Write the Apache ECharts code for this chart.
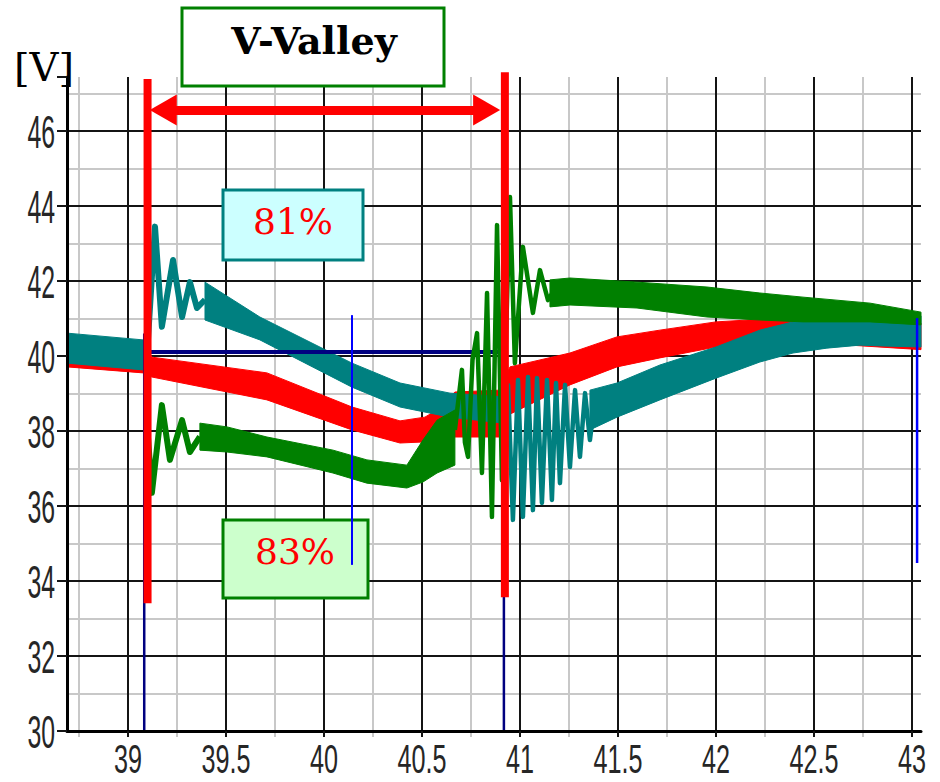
<!DOCTYPE html>
<html><head><meta charset="utf-8">
<script src="https://cdn.jsdelivr.net/npm/echarts@6/dist/echarts.min.js"></script>
<style>html,body{margin:0;padding:0;background:#fff}#c{width:940px;height:782px}</style>
</head><body><div id="c"></div>
<script>
// ---- axis ticks ----
const xMajorTicks = [39, 39.5, 40, 40.5, 41, 41.5, 42, 42.5, 43];
const xMinorTicks = [38.75, 39.25, 39.75, 40.25, 40.75, 41.25, 41.75, 42.25, 42.75];
const yMajorTicks = [30, 32, 34, 36, 38, 40, 42, 44, 46];
const yMinorTicks = [31, 33, 35, 37, 39, 41, 43, 45, 47];

// ---- ripple bands: [time, lower V, upper V] ----
const tealBandLeft = [[38.689, 39.81, 40.61], [39.077, 39.63, 40.43], [39.10, 39.62, 40.42]];
const tealBandMid = [[39.393, 40.96, 41.97], [39.673, 40.43, 41.04], [40.143, 39.17, 39.81], [40.388, 38.64, 39.28], [40.643, 38.37, 39.01], [40.92, 38.21, 38.91]];
const tealBandRight = [[41.357, 38.03, 39.09], [41.495, 38.37, 39.28], [41.714, 38.83, 39.76], [42.0, 39.41, 40.24], [42.224, 39.84, 40.69], [42.393, 40.08, 40.91], [42.566, 40.21, 41.01], [42.735, 40.29, 41.09], [42.837, 40.27, 41.07], [43.046, 40.24, 41.07]];
const redBand = [[38.689, 39.71, 40.56], [39.077, 39.55, 40.37], [39.122, 39.44, 39.97], [39.709, 38.83, 39.55], [40.143, 38.03, 38.64], [40.388, 37.68, 38.27], [40.515, 37.71, 38.37], [40.577, 37.81, 38.56], [40.668, 37.84, 39.04], [40.898, 37.84, 39.09], [40.949, 38.45, 39.71], [41.255, 39.23, 40.08], [41.495, 39.71, 40.51], [41.714, 39.95, 40.69], [42.0, 40.24, 40.91], [42.327, 40.37, 41.01], [42.684, 40.29, 40.96], [43.046, 40.17, 40.88]];
const greenBandMid = [[39.367, 37.49, 38.21], [39.505, 37.44, 38.11], [39.709, 37.31, 37.84], [40.046, 36.88, 37.49], [40.219, 36.61, 37.23], [40.423, 36.48, 37.09], [40.505, 36.64, 37.76], [40.577, 36.88, 38.29], [40.668, 37.09, 38.56]];
const greenBandRight = [[41.153, 41.31, 42.03], [41.255, 41.36, 42.08], [41.597, 41.28, 41.97], [41.954, 41.04, 41.84], [42.224, 40.96, 41.68], [42.444, 40.91, 41.57], [42.786, 40.91, 41.41], [43.046, 40.83, 41.17]];

// ---- ringing traces: [time, V] ----
const tealRingLeft = [[39.097, 40.0], [39.138, 43.45], [39.173, 40.78], [39.230, 42.56], [39.276, 41.04], [39.316, 41.97], [39.352, 41.28], [39.393, 41.5]];
const tealRingRight = [[40.923, 38.56], [40.939, 39.23], [40.964, 35.63], [40.990, 39.36], [41.015, 35.71], [41.041, 39.44], [41.066, 35.89], [41.087, 39.41], [41.112, 36.08], [41.138, 39.36], [41.163, 36.16], [41.184, 39.28], [41.204, 36.61], [41.230, 39.23], [41.255, 37.04], [41.281, 39.09], [41.306, 37.31], [41.332, 39.01], [41.357, 37.76], [41.383, 38.88]];
const greenRingLeft = [[39.10, 38.0], [39.122, 36.35], [39.173, 38.69], [39.214, 37.23], [39.276, 38.29], [39.316, 37.44], [39.367, 37.85]];
const greenRingMid = [[40.668, 38.03], [40.704, 39.63], [40.719, 37.7], [40.735, 37.31], [40.758, 39.9], [40.781, 40.61], [40.806, 36.88], [40.832, 41.68], [40.857, 35.71], [40.883, 43.49], [40.908, 36.69], [40.949, 44.24], [40.974, 39.81], [41.015, 42.91], [41.066, 41.15], [41.102, 42.29], [41.143, 41.49], [41.168, 41.7]];

// ---- annotations (data coordinates) ----
const cursorLines = [[39.1, 33.41, 47.39], [40.923, 33.57, 47.57]];   // [time, from V, to V]
const baseLines = [[39.083, 30, 40.6], [40.918, 30, 40.1]];
const levelLine = [[39.1, 40.107], [40.90, 40.107]];
const blueMarkers = [[40.143, 34.43, 41.09], [43.026, 34.48, 41.01]];
const arrowSpan = [[39.18, 46.56], [40.83, 46.56]];

const xMin = 38.689, xMax = 43.046, yMin = 30, yMax = 47.44;

const chart = echarts.init(document.getElementById('c'), null, {renderer: 'svg'});
const sans = "'Liberation Sans', Arial, sans-serif";
const serif = "'DejaVu Serif', 'Liberation Serif', serif";

function vline(d, color, width, z) {
  return {type: 'line', data: [[d[0], d[1]], [d[0], d[2]]], symbol: 'none', showSymbol: false, silent: true,
    animation: false, clip: false, z: z, lineStyle: {color: color, width: width, cap: 'butt'}};
}
function trace(data, color, width, z) {
  return {type: 'line', data: data, symbol: 'none', showSymbol: false, silent: true, animation: false,
    z: z, lineStyle: {color: color, width: width, join: 'round'}};
}
function band(rows, color, z) {
  return {type: 'custom', z: z, silent: true, animation: false, data: [[rows[0][0], rows[0][1]]],
    renderItem: function (p, api) {
      const up = rows.map(r => api.coord([r[0], r[2]]));
      const lo = rows.slice().reverse().map(r => api.coord([r[0], r[1]]));
      return {type: 'polygon', shape: {points: up.concat(lo)}, style: {fill: color, stroke: color, lineWidth: 1}};
    }};
}
function gridLines(xs, ys, color, width, z) {
  return {type: 'line', data: [], silent: true, animation: false, z: z,
    markLine: {silent: true, animation: false, z: z, symbol: 'none', label: {show: false},
      lineStyle: {color: color, width: width, type: 'solid'},
      data: xs.map(v => ({xAxis: v})).concat(ys.map(v => ({yAxis: v})))}};
}

const series = [
  gridLines(xMinorTicks, yMinorTicks, '#c8c8c8', 2, 1),
  gridLines(xMajorTicks, yMajorTicks, '#141414', 2, 1),
  band(redBand, '#ff0000', 4),
  band(tealBandLeft, '#008080', 5),
  band(tealBandMid, '#008080', 5),
  band(tealBandRight, '#008080', 5),
  band(greenBandMid, '#008000', 6),
  band(greenBandRight, '#008000', 6),
  trace(levelLine, '#000080', 4, 7),
  trace(greenRingLeft, '#008000', 6, 8),
  trace(greenRingMid, '#008000', 4.5, 8),
  trace(tealRingLeft, '#008080', 6, 9),
  trace(tealRingRight, '#008080', 4.5, 9),
  vline(baseLines[0], '#000080', 2.5, 10),
  vline(baseLines[1], '#000080', 2.5, 10),
  vline(cursorLines[0], '#ff0000', 8, 11),
  vline(cursorLines[1], '#ff0000', 8, 11),
  vline(blueMarkers[0], '#0000ff', 2, 12),
  vline(blueMarkers[1], '#0000ff', 2.5, 12),
  {type: 'line', data: [], silent: true, animation: false, z: 12,
    markLine: {silent: true, animation: false, z: 12, symbol: ['triangle', 'triangle'], symbolSize: [31, 27],
      label: {show: false}, lineStyle: {color: '#ff0000', width: 9, type: 'solid', opacity: 1},
      itemStyle: {color: '#ff0000'},
      data: [[{coord: arrowSpan[0]}, {coord: arrowSpan[1]}]]}}
];

chart.setOption({
  animation: false,
  backgroundColor: '#ffffff',
  grid: {left: 67, right: 19, top: 77, bottom: 51, containLabel: false, outerBoundsMode: 'none'},
  xAxis: [{
    type: 'value', min: xMin, max: xMax, position: 'bottom', z: 20,
    axisLine: {show: true, lineStyle: {color: '#000', width: 3}},
    axisTick: {show: true, length: 6, customValues: xMajorTicks, lineStyle: {color: '#141414', width: 2}},
    axisLabel: {show: false},
    splitLine: {show: false}
  }, {
    type: 'value', min: xMin, max: xMax, position: 'bottom', z: 19,
    axisLine: {show: false},
    axisTick: {show: true, length: 6, customValues: xMinorTicks, lineStyle: {color: '#c8c8c8', width: 2}},
    axisLabel: {show: false}, splitLine: {show: false}
  }],
  yAxis: {
    type: 'value', min: yMin, max: yMax, interval: 2, z: 20,
    axisLine: {show: true, lineStyle: {color: '#000', width: 3}},
    axisTick: {show: true, length: 10, lineStyle: {color: '#141414', width: 2}},
    axisLabel: {show: false},
    splitLine: {show: false}
  },
  series: series
});

// tick labels: condensed text placed through the axes' own scales
const axisBottom = chart.convertToPixel({yAxisIndex: 0}, yMin);
const axisLeft = chart.convertToPixel({xAxisIndex: 0}, xMin);
const labelGraphics = [];
xMajorTicks.forEach(v => labelGraphics.push({type: 'text', z: 30,
  x: chart.convertToPixel({xAxisIndex: 0}, v), y: axisBottom + 28, scaleX: 0.63,
  style: {text: String(v), align: 'center', verticalAlign: 'middle', fontFamily: sans, fontSize: 40, fill: '#262626'}}));
yMajorTicks.forEach(v => labelGraphics.push({type: 'text', z: 30,
  x: axisLeft - 12, y: chart.convertToPixel({yAxisIndex: 0}, v) + 1, scaleX: 0.54,
  style: {text: String(v), align: 'right', verticalAlign: 'middle', fontFamily: sans, fontSize: 46, fill: '#262626'}}));

chart.setOption({
  graphic: [
    {type: 'text', x: 44, y: 67, z: 30, style: {text: '[V]', fontFamily: serif, fontSize: 40, fill: '#000', align: 'center', verticalAlign: 'middle'}},
    {type: 'rect', z: 3, shape: {x: 182, y: 8, width: 262, height: 78}, style: {fill: '#ffffff', stroke: '#008000', lineWidth: 3}},
    {type: 'text', x: 314, y: 40, z: 30, style: {text: 'V-Valley', fontFamily: serif, fontSize: 38, fontWeight: 'bold', fill: '#000', align: 'center', verticalAlign: 'middle'}},
    {type: 'rect', z: 3, shape: {x: 223, y: 190, width: 140, height: 70}, style: {fill: '#ccffff', stroke: '#008080', lineWidth: 3}},
    {type: 'text', x: 293, y: 221, z: 30, style: {text: '81%', fontFamily: serif, fontSize: 36, fill: '#ff0000', align: 'center', verticalAlign: 'middle'}},
    {type: 'rect', z: 3, shape: {x: 223, y: 520, width: 145, height: 78}, style: {fill: '#ccffcc', stroke: '#008000', lineWidth: 3}},
    {type: 'text', x: 295, y: 551, z: 30, style: {text: '83%', fontFamily: serif, fontSize: 36, fill: '#ff0000', align: 'center', verticalAlign: 'middle'}}
  ].concat(labelGraphics)
});
</script>
</body></html>
